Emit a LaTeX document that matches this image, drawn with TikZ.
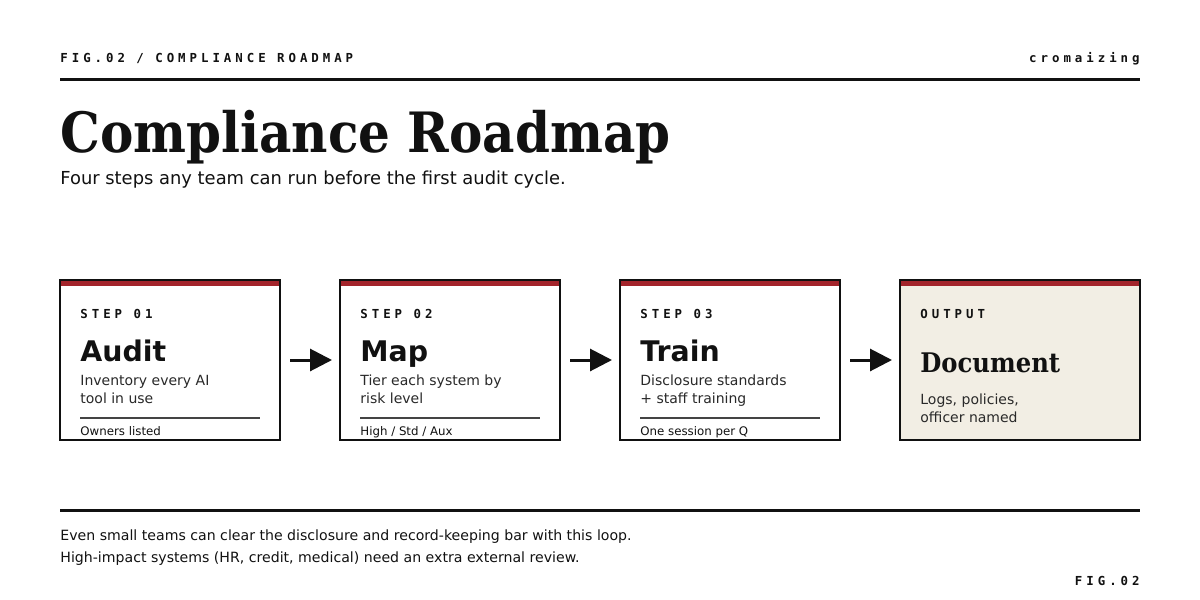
\documentclass[tikz,border=0pt]{standalone}
\usepackage{fontspec}
\setmainfont{DejaVu Sans}
\newfontfamily\labelfont{DejaVu Sans Mono}[LetterSpace=32]
\newfontfamily\headfont{DejaVu Serif Condensed}
\usetikzlibrary{positioning}
\usetikzlibrary{arrows.meta}
\definecolor{ink}{HTML}{111111}
\definecolor{rust}{HTML}{A3242B}
\definecolor{paper}{HTML}{F2EEE4}
\definecolor{hair}{HTML}{444444}
\tikzset{
  caption/.style = {font=\labelfont\bfseries\fontsize{6.2}{7}\selectfont,
                    text=ink, inner sep=0pt},
  stepbox/.style = {fill=white, inner sep=0pt, outer sep=0pt,
                    minimum width=110pt, minimum height=80pt},
  rim/.style     = {draw=ink, line width=1.3pt},
  bar/.style     = {fill=rust},
  steptitle/.style = {font=\bfseries\fontsize{14.2}{17}\selectfont,
                      text=ink, inner sep=0pt, anchor=base west},
  stepdesc/.style  = {font=\fontsize{7}{9}\selectfont, text=ink!90,
                      inner sep=0pt, anchor=base west, align=left},
  stepnote/.style  = {font=\fontsize{5.9}{7}\selectfont, text=ink,
                      inner sep=0pt, anchor=base west},
  heavy/.style = {draw=ink, line width=1.5pt},
  flow/.style  = {draw=ink, line width=1.5pt,
                  -{Triangle[length=11pt,width=11pt]},
                  shorten <=5pt, shorten >=4pt}
}

\begin{document}
\begin{tikzpicture}[x=0.5pt, y=-0.5pt]
  \useasboundingbox[fill=white] (0,0) rectangle (1200,600);

  % header
  \node[caption, anchor=base west] (fig) at (60,62) {FIG.02 / COMPLIANCE ROADMAP};
  \node[caption, anchor=base east] (brand) at (1140,62) {cromaizing};
  \draw[heavy] (60,79) -- (1140,79);
  \node[anchor=base west, inner sep=0pt, text=ink,
        font=\headfont\bfseries\fontsize{27.8}{32}\selectfont] (title) at (60,152) {Compliance Roadmap};
  \node[anchor=base west, inner sep=0pt, text=ink,
        font=\fontsize{8.95}{11}\selectfont] (sub) at (60,184) {Four steps any team can run before the first audit cycle.};

  % the three steps (base of a two-line text is its last line)
  \foreach \i/\lbl/\ttl/\desc/\hint in {
      1/STEP 01/Audit/{Inventory every AI\\tool in use}/Owners listed,
      2/STEP 02/Map/{Tier each system by\\risk level}/{High / Std / Aux},
      3/STEP 03/Train/{Disclosure standards\\+ staff training}/One session per Q}
  {
    \node[stepbox] (box\i) at (170+280*\i-280,360) {};
    \fill[bar] (box\i.north west) rectangle ([yshift=-3.2pt]box\i.north east);
    \draw[rim] (box\i.north west) rectangle (box\i.south east);
    \node[caption, anchor=base west] (lbl\i) at ([xshift=10pt,yshift=-19pt]box\i.north west) {\lbl};
    \node[steptitle] (ttl\i) at ([xshift=10pt,yshift=-40.5pt]box\i.north west) {\ttl};
    \node[stepdesc] (desc\i) at ([xshift=10pt,yshift=-61.5pt]box\i.north west) {\desc};
    \draw[hair, line width=0.75pt] ([xshift=10pt,yshift=-69pt]box\i.north west)
      -- ([xshift=-10pt,yshift=-69pt]box\i.north east);
    \node[stepnote] (hint\i) at ([xshift=10pt,yshift=-77.5pt]box\i.north west) {\hint};
  }

  % output
  \node[stepbox, fill=paper, minimum width=120pt] (box4) at (1020,360) {};
  \fill[bar] (box4.north west) rectangle ([yshift=-3.2pt]box4.north east);
  \draw[rim] (box4.north west) rectangle (box4.south east);
  \node[caption, anchor=base west] (lbl4) at ([xshift=10pt,yshift=-19pt]box4.north west) {OUTPUT};
  \node[steptitle, font=\headfont\bfseries\fontsize{13.5}{16}\selectfont] (ttl4)
    at ([xshift=10pt,yshift=-46pt]box4.north west) {Document};
  \node[stepdesc] (desc4) at ([xshift=10pt,yshift=-71pt]box4.north west) {Logs, policies,\\officer named};

  \foreach \a/\b in {1/2,2/3,3/4}
    \draw[flow] (box\a) -- (box\b);

  % footer
  \draw[heavy] (60,510) -- (1140,510);
  \node[anchor=base west, inner sep=0pt, text=ink, align=left,
        font=\fontsize{7.06}{11}\selectfont] (foot) at (60,562)
    {Even small teams can clear the disclosure and record-keeping bar with this loop.\\
     High-impact systems (HR, credit, medical) need an extra external review.};
  \node[caption, anchor=base east] (tagline) at (1140,585) {FIG.02};
\end{tikzpicture}
\end{document}
